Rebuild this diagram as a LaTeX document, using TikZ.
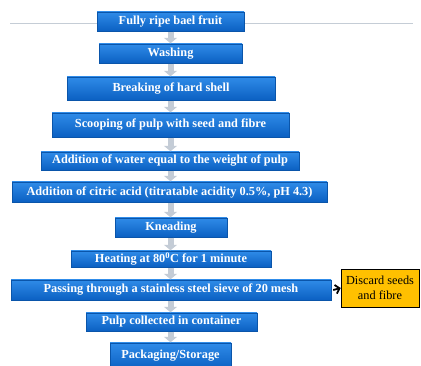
\documentclass[tikz,border=0pt]{standalone}
\usepackage{fontspec}
\setmainfont{Liberation Serif}
\usetikzlibrary{shadows,arrows.meta}
\definecolor{boxtop}{HTML}{2F8BE8}
\definecolor{boxbot}{HTML}{0B60C2}
\definecolor{boxedge}{HTML}{0A55AA}
\definecolor{arrowc}{HTML}{C4CCD6}
\definecolor{discardc}{HTML}{FFC000}
\definecolor{rulec}{HTML}{C5CDD6}
\tikzset{
  stepbox/.style={draw=boxedge, line width=0.4pt, top color=boxtop, bottom color=boxbot,
    text=white, font=\bfseries\fontsize{12.3}{14}\selectfont, inner sep=0pt,
    drop shadow={shadow xshift=1pt, shadow yshift=-1pt, fill=black, opacity=0.35}},
  flowarrow/.style={draw=arrowc, line width=6pt, -{Triangle[width=13pt,length=5.5pt]}},
  sidebox/.style={draw=black, line width=0.5pt, fill=discardc, text=black,
    font=\fontsize{12.3}{15}\selectfont, align=center, inner sep=0pt,
    minimum width=78pt, minimum height=38pt},
  sidearrow/.style={draw=black, line width=1.8pt, -{Straight Barb[length=4pt,width=9pt]}}
}
\begin{document}
\begin{tikzpicture}[x=1pt,y=-1pt]
\clip (0,0) rectangle (421,366);
\fill[white] (0,0) rectangle (421,366);
\draw[rulec, line width=0.8pt] (10,23) -- (413,23);
\node[stepbox, minimum width=147pt, minimum height=19pt] (n1) at (170.5,21.5) {Fully ripe bael fruit};
\node[stepbox, minimum width=143pt, minimum height=19pt] (n2) at (170.5,53.5) {Washing};
\node[stepbox, minimum width=208pt, minimum height=23pt] (n3) at (171,88.5) {Breaking of hard shell};
\node[stepbox, minimum width=237pt, minimum height=24pt] (n4) at (170.5,125) {Scooping of pulp with seed and fibre};
\node[stepbox, minimum width=258pt, minimum height=18pt] (n5) at (170,161) {Addition of water equal to the weight of pulp};
\node[stepbox, minimum width=315pt, minimum height=20pt] (n6) at (169.5,192) {Addition of citric acid (titratable acidity 0.5\%, pH 4.3)};
\node[stepbox, minimum width=112pt, minimum height=19pt] (n7) at (171,227.5) {Kneading};
\node[stepbox, minimum width=200pt, minimum height=16pt] (n8) at (171,259) {Heating at 80\textsuperscript{0}C for 1 minute};
\node[stepbox, minimum width=320pt, minimum height=20pt] (n9) at (171,290) {Passing through a stainless steel sieve of 20 mesh};
\node[stepbox, minimum width=171pt, minimum height=18pt] (n10) at (171.5,322) {Pulp collected in container};
\node[stepbox, minimum width=121pt, minimum height=26pt] (n11) at (170.5,356) {\raisebox{2.5pt}{Packaging/Storage}};
\node[sidebox] (d) at (380,288) {Discard seeds\\and fibre};
\foreach \a/\b in {n1/n2,n2/n3,n3/n4,n4/n5,n5/n6,n6/n7,n7/n8,n8/n9,n9/n10,n10/n11}{
  \draw[flowarrow, shorten <=0.5pt, shorten >=0.5pt] (\a.south -| 170.5,0) -- (\b.north -| 170.5,0);
}
\draw[sidearrow] (n9.east) ++(2pt,0) coordinate (s) (s) -- (d.west);
\end{tikzpicture}
\end{document}
